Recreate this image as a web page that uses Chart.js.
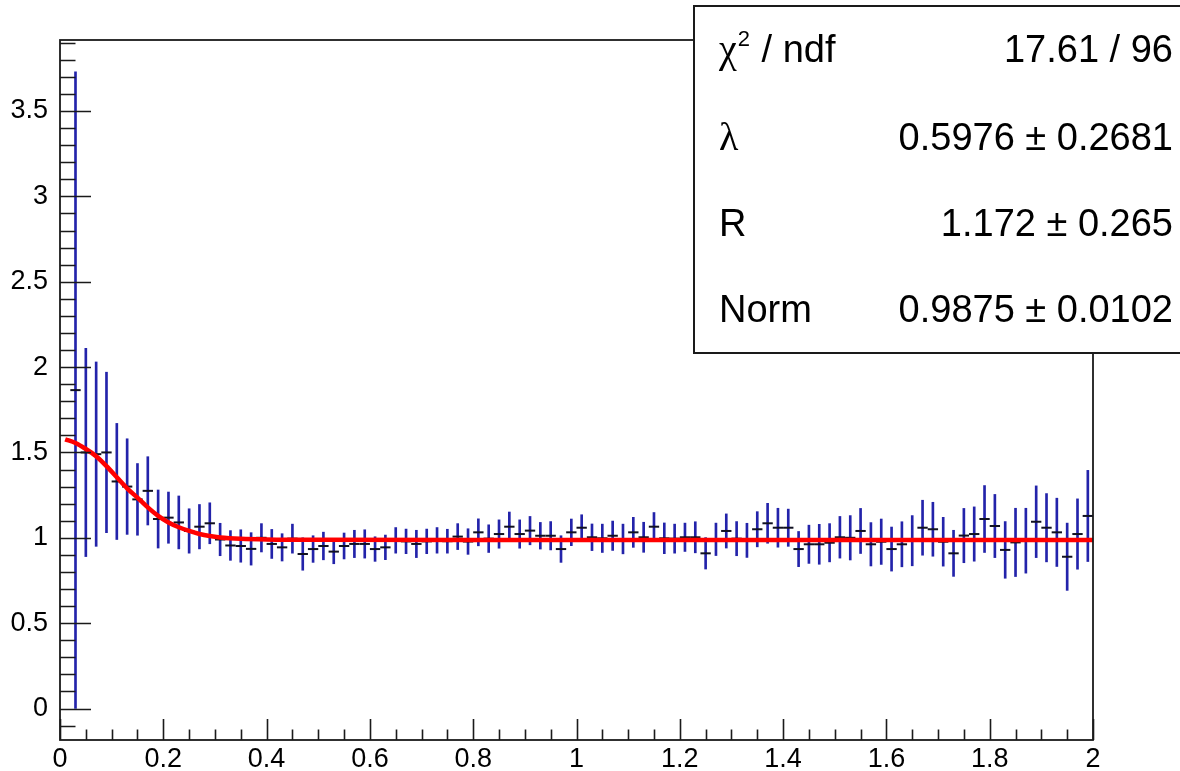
<!DOCTYPE html>
<html><head><meta charset="utf-8">
<script src="https://cdn.jsdelivr.net/npm/chart.js@4"></script>
<style>html,body{margin:0;padding:0;background:#fff;overflow:hidden}#wrap{width:1180px;height:771px;position:relative}</style>
</head><body><div id="wrap"><canvas id="c" width="1180" height="771"></canvas></div>
<script>
// ---- data ----
const binCenters = [0.03,0.05,0.07,0.09,0.11,0.13,0.15,0.17,0.19,0.21,0.23,0.25,0.27,0.29,0.31,0.33,0.35,0.37,0.39,
 0.41,0.43,0.45,0.47,0.49,0.51,0.53,0.55,0.57,0.59,0.61,0.63,0.65,0.67,0.69,0.71,0.73,0.75,0.77,0.79,
 0.81,0.83,0.85,0.87,0.89,0.91,0.93,0.95,0.97,0.99,1.01,1.03,1.05,1.07,1.09,1.11,1.13,1.15,1.17,1.19,
 1.21,1.23,1.25,1.27,1.29,1.31,1.33,1.35,1.37,1.39,1.41,1.43,1.45,1.47,1.49,1.51,1.53,1.55,1.57,1.59,
 1.61,1.63,1.65,1.67,1.69,1.71,1.73,1.75,1.77,1.79,1.81,1.83,1.85,1.87,1.89,1.91,1.93,1.95,1.97,1.99];
const binValues = [1.865,1.50,1.49,1.50,1.33,1.30,1.225,1.275,1.11,1.118,1.09,1.04,1.065,1.085,0.99,0.955,0.952,0.935,1.0,
 0.964,0.944,0.995,0.905,0.934,0.952,0.919,0.952,0.964,0.964,0.934,0.944,0.985,0.979,0.964,0.979,0.985,0.98,1.007,0.978,
 1.032,0.995,1.022,1.065,1.022,1.042,1.012,1.012,0.934,1.032,1.059,1.003,0.997,1.012,0.993,1.032,1.003,1.065,0.997,0.995,
 1.003,1.003,0.909,0.991,1.040,0.995,0.985,1.050,1.085,1.059,1.059,0.934,0.962,0.962,0.971,1.003,1.0,1.040,0.962,0.977,
 0.934,0.962,0.983,1.059,1.050,0.977,0.909,1.013,1.022,1.110,1.069,0.929,0.973,0.983,1.094,1.059,1.032,0.889,1.022,1.128];
const binErrors = [1.865,0.61,0.54,0.47,0.34,0.28,0.21,0.20,0.17,0.15,0.155,0.13,0.13,0.12,0.095,0.087,0.095,0.095,0.083,
 0.085,0.08,0.085,0.095,0.078,0.081,0.071,0.076,0.08,0.083,0.072,0.072,0.075,0.072,0.08,0.072,0.075,0.07,0.076,0.075,
 0.079,0.081,0.083,0.086,0.083,0.083,0.078,0.083,0.078,0.078,0.076,0.078,0.083,0.086,0.087,0.088,0.088,0.083,0.09,0.085,
 0.083,0.091,0.092,0.095,0.1,0.1,0.1,0.103,0.117,0.114,0.109,0.103,0.112,0.117,0.112,0.122,0.13,0.132,0.127,0.133,
 0.129,0.132,0.147,0.161,0.158,0.143,0.135,0.159,0.159,0.196,0.185,0.166,0.2,0.19,0.21,0.2,0.2,0.197,0.206,0.267];
const fitQ = [0.01,0.03,0.05,0.07,0.09,0.11,0.13,0.15,0.17,0.19,0.21,0.23,0.25,0.27,0.29,0.31,0.35,0.40,0.50,1.00,1.50,2.00];
const fitValues = [1.577,1.555,1.52,1.478,1.42,1.355,1.29,1.235,1.178,1.128,1.09,1.062,1.04,1.022,1.01,1.002,0.994,0.990,0.988,0.9875,0.9875,0.9875];
const xTickLabels = [0,0.2,0.4,0.6,0.8,1,1.2,1.4,1.6,1.8,2];
const yTickLabels = [0,0.5,1,1.5,2,2.5,3,3.5];
const statsNames = ['χ2 / ndf','λ','R','Norm'];
const statsValues = ['17.61 / 96','0.5976 ± 0.2681','1.172 ± 0.265','0.9875 ± 0.0102'];

const FONT = "'Liberation Sans', Arial, Helvetica, sans-serif";

const rootAxes = {
  id: 'rootAxes',
  afterDatasetsDraw(chart) {
    const {ctx, chartArea: a, scales: {x, y}} = chart;
    ctx.save();
    ctx.strokeStyle = '#1a1a1a';
    ctx.lineWidth = 1.6;
    ctx.beginPath();
    const xMajLen = 21, xMinLen = 10.5, yMajLen = 31, yMinLen = 15.5;
    for (let i = 0; i <= 40; i++) {
      const v = i * 0.05;
      const px = Math.round(x.getPixelForValue(v)) + 0.5;
      const len = (i % 4 === 0) ? xMajLen : xMinLen;
      ctx.moveTo(px, a.bottom); ctx.lineTo(px, a.bottom - len);
    }
    for (let i = -1; i <= 39; i++) {
      const v = i * 0.1;
      if (v < y.min || v > y.max) continue;
      const py = Math.round(y.getPixelForValue(v)) + 0.5;
      const len = (i % 5 === 0) ? yMajLen : yMinLen;
      ctx.moveTo(a.left, py); ctx.lineTo(a.left + len, py);
    }
    ctx.stroke();
    ctx.lineWidth = 1.8;
    ctx.strokeRect(a.left, a.top, a.right - a.left, a.bottom - a.top);
    ctx.restore();
  },
  afterDraw(chart) {
    const ctx = chart.ctx;
    ctx.save();
    ctx.fillStyle = '#fff';
    ctx.fillRect(694, 6, 600, 347);
    ctx.strokeStyle = '#1a1a1a';
    ctx.lineWidth = 2;
    ctx.strokeRect(694, 6, 600, 347);
    ctx.fillStyle = '#000';
    ctx.textBaseline = 'alphabetic';
    const rows = [62, 150, 236, 322];
    statsNames.forEach((name, i) => {
      const yb = rows[i];
      ctx.textAlign = 'left';
      if (i === 0) {
        ctx.font = "40px 'Liberation Serif', 'DejaVu Serif', serif";
        ctx.fillText('χ', 719, yb);
        let w = ctx.measureText('χ').width;
        ctx.font = "22px " + FONT;
        ctx.fillText('2', 719 + w + 1, yb - 16);
        let w2 = ctx.measureText('2').width;
        ctx.font = "38px " + FONT;
        ctx.fillText(' / ndf', 719 + w + w2 + 2, yb);
      } else if (i === 1) {
        ctx.font = "40px 'Liberation Serif', 'DejaVu Serif', serif";
        ctx.fillText(name, 719, yb);
      } else {
        ctx.font = "38px " + FONT;
        ctx.fillText(name, 719, yb);
      }
      ctx.font = "38px " + FONT;
      ctx.textAlign = 'right';
      ctx.fillText(statsValues[i], 1173, yb);
    });
    ctx.restore();
  }
};

const fmt = v => String(+(+v).toFixed(1));

new Chart(document.getElementById('c'), {
  type: 'bar',
  data: {
    datasets: [
      {
        type: 'line',
        data: fitQ.map((q, i) => ({x: q, y: fitValues[i]})),
        borderColor: '#ff0000', borderWidth: 4.5, pointRadius: 0,
        cubicInterpolationMode: 'monotone', fill: false, order: 0
      },
      {
        type: 'scatter',
        data: binCenters.map((q, i) => ({x: q, y: binValues[i]})),
        pointStyle: 'line', pointRadius: 5.17, borderColor: '#101020', borderWidth: 2,
        showLine: false, order: 1
      },
      {
        type: 'bar',
        data: binCenters.map((q, i) => ({x: q, y: [binValues[i] - binErrors[i], binValues[i] + binErrors[i]]})),
        backgroundColor: '#2323aa', borderWidth: 0, barThickness: 2, grouped: false, order: 2
      }
    ]
  },
  options: {
    responsive: false, animation: false, devicePixelRatio: 1,
    layout: {padding: {left: 0, top: 40, right: 87, bottom: 0}},
    plugins: {legend: {display: false}, tooltip: {enabled: false}},
    scales: {
      x: {
        type: 'linear', min: 0, max: 2, offset: false,
        grid: {display: false, drawTicks: false}, border: {display: false},
        ticks: {autoSkip: false, maxRotation: 0, padding: 3, color: '#000', font: {family: FONT, size: 27}, callback: fmt},
        afterBuildTicks(s) { s.ticks = xTickLabels.map(v => ({value: v})); },
        afterFit(s) { s.height = 31; }
      },
      y: {
        type: 'linear', min: -0.1845, max: 3.916,
        grid: {display: false, drawTicks: false}, border: {display: false},
        ticks: {autoSkip: false, padding: 12, color: '#000', font: {family: FONT, size: 27}, callback: fmt},
        afterBuildTicks(s) { s.ticks = yTickLabels.map(v => ({value: v})); },
        afterFit(s) { s.width = 60; }
      }
    }
  },
  plugins: [rootAxes]
});
</script></body></html>
